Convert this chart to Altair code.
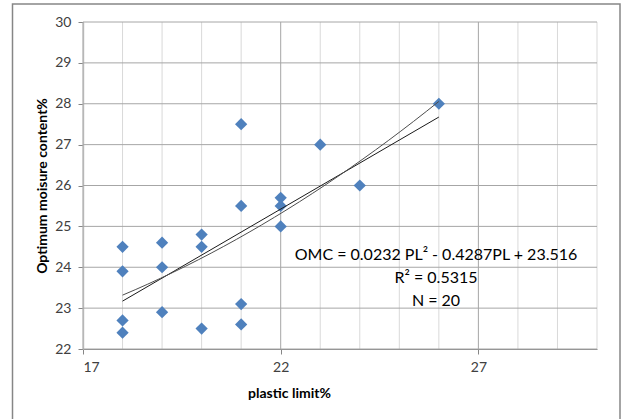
import altair as alt
import pandas as pd

# Data
plastic_limit = [18, 18, 18, 18, 19, 19, 19, 20, 20, 20,
                 21, 21, 21, 21, 22, 22, 22, 23, 24, 26]
omc = [24.5, 23.9, 22.7, 22.4, 24.6, 24.0, 22.9, 24.8, 24.5, 22.5,
       27.5, 25.5, 23.1, 22.6, 25.7, 25.5, 25.0, 27.0, 26.0, 28.0]
x_ticks = list(range(17, 31))
y_ticks = list(range(22, 31))
equation_lines = ["OMC = 0.0232 PL² - 0.4287PL + 23.516", "R² = 0.5315", "N = 20"]

df = pd.DataFrame({"pl": plastic_limit, "omc": omc})

FONT = "Lato"
W, H = 514, 327

xscale = alt.Scale(domain=[17, 30], nice=False, zero=False)
yscale = alt.Scale(domain=[22, 30], nice=False, zero=False)

major = "(datum.value - 17) % 5 == 0"

x_axis = alt.Axis(
    values=x_ticks,
    labelExpr=f"{major} ? datum.label : ''",
    grid=False,
    tickOpacity={"condition": {"test": major, "value": 1}, "value": 0},
    tickColor="#868686",
    tickSize=5,
    domainColor="#868686",
    labelFont=FONT, labelFontSize=14, labelColor="#404040", labelPadding=6,
    title="plastic limit%",
    titleFont=FONT, titleFontSize=14, titleFontWeight="bold", titleColor="#000000",
    titleX=206, titleY=44, titleAlign="center", titleBaseline="middle",
)

y_axis = alt.Axis(
    values=y_ticks,
    grid=False,
    tickColor="#868686",
    tickSize=5,
    domainColor="#c8c8c8",
    domainWidth=1.5,
    labelFont=FONT, labelFontSize=14, labelColor="#404040", labelPadding=7,
    title="Optimum moisure content%",
    titleFont=FONT, titleFontSize=14, titleFontWeight="bold", titleColor="#000000",
    titleX=-41, titleY=H / 2, titleAngle=270, titleAlign="center", titleBaseline="middle",
)

X = lambda f: alt.X(f, scale=xscale, axis=x_axis)
Y = lambda f: alt.Y(f, scale=yscale, axis=y_axis)

vgrid = alt.Chart(pd.DataFrame({"gx": x_ticks})).mark_rule(strokeWidth=1).encode(
    x=X("gx:Q"),
    color=alt.condition("(datum.gx - 17) % 5 == 0", alt.value("#a6a6a6"), alt.value("#d9d9d9")),
)

hgrid = alt.Chart(pd.DataFrame({"gy": y_ticks})).mark_rule(strokeWidth=1, color="#a6a6a6").encode(
    y=Y("gy:Q"),
)

base = alt.Chart(df)

points = base.mark_point(shape="diamond", filled=True, size=150, color="#4F81BD", opacity=1).encode(
    x=X("pl:Q"), y=Y("omc:Q"),
)

linear = base.transform_regression("pl", "omc", method="linear").mark_line(
    color="#1a1a1a", strokeWidth=1
).encode(x=X("pl:Q"), y=Y("omc:Q"))

poly = base.transform_regression("pl", "omc", method="poly", order=2).mark_line(
    color="#4d4d4d", strokeWidth=1
).encode(x=X("pl:Q"), y=Y("omc:Q"))

text_layers = []
for i, line in enumerate(equation_lines):
    text_layers.append(
        alt.Chart(pd.DataFrame({"t": [line]})).mark_text(
            font=FONT, fontSize=16, color="#000000", align="center", baseline="middle",
        ).encode(
            x=alt.value(353),
            y=alt.value(233 + i * 23),
            text="t:N",
        )
    )

frame = alt.Chart(pd.DataFrame({"a": [0]})).mark_rect(
    fill=None, stroke="#868686", strokeWidth=1.5
).encode(
    x=alt.value(-70.5), x2=alt.value(537), y=alt.value(-18), y2=alt.value(410)
)

chart = alt.layer(frame, vgrid, hgrid, points, linear, poly, *text_layers).properties(
    width=W, height=H,
    autosize=alt.AutoSizeParams(type="none"),
    padding={"left": 83, "top": 22, "right": 25, "bottom": 70},
    background="#ffffff",
).configure_view(stroke=None)

chart.save("out.html", embed_options={"renderer": "svg", "actions": False})
